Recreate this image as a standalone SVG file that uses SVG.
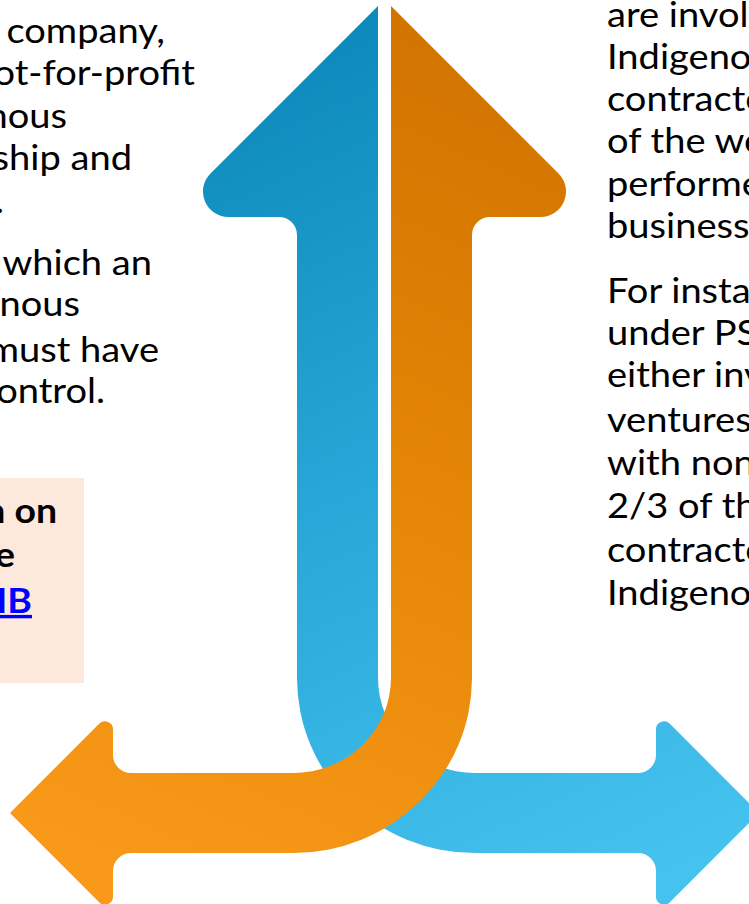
<svg xmlns="http://www.w3.org/2000/svg" width="749" height="904" viewBox="0 0 749 904">
<defs>
<linearGradient id="gBlue" gradientUnits="userSpaceOnUse" x1="300" y1="0" x2="700" y2="860">
<stop offset="0" stop-color="#0a87b8"/>
<stop offset="0.5" stop-color="#28a8d8"/>
<stop offset="1" stop-color="#46c2ef"/>
</linearGradient>
<linearGradient id="gOrange" gradientUnits="userSpaceOnUse" x1="470" y1="0" x2="90" y2="860">
<stop offset="0" stop-color="#cf7200"/>
<stop offset="0.5" stop-color="#e58606"/>
<stop offset="1" stop-color="#f8991a"/>
</linearGradient>
<style>
.t{font-family:Lato,"Liberation Sans",sans-serif;font-size:34px;fill:#000}
.b{font-weight:bold}
.e{text-anchor:end}
.lnk{fill:#0000ff;text-decoration:underline}
</style>
</defs>
<rect width="749" height="904" fill="#ffffff"/>
<g id="left-text" class="t e">
<text transform="translate(165,43) scale(1.12,1)">company,</text>
<text transform="translate(195,85) scale(1.12,1)">ot-for-profit</text>
<text transform="translate(67,128) scale(1.12,1)">nous</text>
<text transform="translate(132,170) scale(1.12,1)">ship and</text>
<text transform="translate(4,213) scale(1.12,1)">.</text>
<text transform="translate(152,275) scale(1.12,1)">which an</text>
<text transform="translate(80,316) scale(1.12,1)">enous</text>
<text transform="translate(159,362) scale(1.12,1)">must have</text>
<text transform="translate(105,403) scale(1.12,1)">ontrol.</text>
</g>
<g id="note-box">
<rect x="0" y="478" width="84" height="205" fill="#fce9dc"/>
<g class="t b e">
<text transform="translate(57,523) scale(1.1,1)">n on</text>
<text transform="translate(15,567) scale(1.1,1)">e</text>
<text transform="translate(32,613) scale(1.1,1)" class="lnk">IB</text>
</g>
</g>
<g id="right-text" class="t">
<text transform="translate(607,27) scale(1.12,1)">are invol</text>
<text transform="translate(607,69) scale(1.12,1)">Indigeno</text>
<text transform="translate(607,111) scale(1.12,1)">contracto</text>
<text transform="translate(607,153) scale(1.12,1)">of the wo</text>
<text transform="translate(607,196) scale(1.12,1)">performe</text>
<text transform="translate(607,238) scale(1.12,1)">businesse</text>
<text transform="translate(607,303) scale(1.12,1)">For insta</text>
<text transform="translate(607,345) scale(1.12,1)">under PS</text>
<text transform="translate(607,387) scale(1.12,1)">either inv</text>
<text transform="translate(607,432) scale(1.12,1)">ventures</text>
<text transform="translate(607,475) scale(1.12,1)">with non</text>
<text transform="translate(607,518) scale(1.12,1)">2/3 of th</text>
<text transform="translate(607,562) scale(1.12,1)">contracte</text>
<text transform="translate(607,605) scale(1.12,1)">Indigeno</text>
</g>
<g id="connectors">
<path id="blue-arrow" fill="url(#gBlue)" d="M378,6 L378,678 A97,95 0 0 0 475,773 L638,773 A18,18 0 0 0 656,755 L656,729.3 A8,8 0 0 1 669.6,723.6 L759,813 L669.6,902.4 A8,8 0 0 1 656,896.7 L656,871 A18,18 0 0 0 638,853 L475,853 A178,175 0 0 1 297,678 L297,235 A18,18 0 0 0 279,217 L228.6,217 A25.5,25.5 0 0 1 210.5,173.4 Z"/>
<path id="orange-arrow" fill="url(#gOrange)" d="M391,6 L558.5,173.4 A25.5,25.5 0 0 1 540.4,217 L490,217 A18,18 0 0 0 472,235 L472,678 A179,175 0 0 1 293,853 L131,853 A18,18 0 0 0 113,871 L113,896.7 A8,8 0 0 1 99.4,902.4 L10,813 L99.4,723.6 A8,8 0 0 1 113,729.3 L113,755 A18,18 0 0 0 131,773 L293,773 A98,95 0 0 0 391,678 Z"/>
</g>
</svg>
